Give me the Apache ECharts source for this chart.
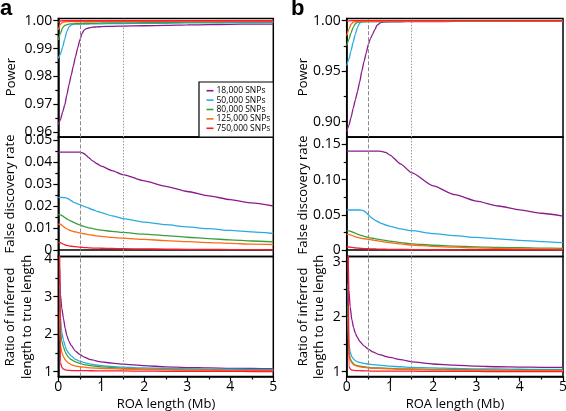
<!DOCTYPE html>
<html><head><meta charset="utf-8">
<script src="https://cdn.jsdelivr.net/npm/echarts@6/dist/echarts.min.js"></script>
<style>html,body{margin:0;padding:0;background:#fff}#c{width:566px;height:411px}</style>
</head><body><div id="c"></div>
<script>
// ---------------- data ----------------
const SERIES_NAMES = ['18,000 SNPs', '50,000 SNPs', '80,000 SNPs', '125,000 SNPs', '750,000 SNPs'];
const COLORS = ['#8B1A8B', '#29ABE2', '#3A9E3A', '#FF6A13', '#FF1A2E'];

// ROA length (Mb) sample points
const X_MAIN  = [0, 0.05, 0.1, 0.15, 0.2, 0.25, 0.3, 0.35, 0.4, 0.45, 0.5, 0.55, 0.6, 0.65, 0.7, 0.8, 0.9, 1.0, 1.25, 1.5, 2, 2.5, 3, 3.5, 4, 4.5, 5];
const X_RATIO = [0.03, 0.05, 0.08, 0.12, 0.16, 0.2, 0.25, 0.3, 0.4, 0.5, 0.6, 0.75, 1.0, 1.25, 1.5, 2, 2.5, 3, 3.5, 4, 4.5, 5];

// Panel a – Power
const A_POWER_18K  = [0.9628,0.9645,0.9672,0.9698,0.9735,0.9771,0.9805,0.9838,0.9871,0.9902,0.9930,0.9954,0.9966,0.9972,0.9974,0.9977,0.9978,0.9979,0.9980,0.9981,0.9982,0.9983,0.9985,0.9986,0.9987,0.9988,0.9988];
const A_POWER_50K  = [0.9865,0.9880,0.9905,0.9934,0.9962,0.9978,0.9985,0.9987,0.9988,0.9988,0.9988,0.9988,0.9988,0.9988,0.9988,0.9989,0.9989,0.9989,0.9990,0.9990,0.9991,0.9991,0.9992,0.9992,0.9993,0.9993,0.9994];
const A_POWER_80K  = [0.9931,0.9955,0.9975,0.9983,0.9986,0.9988,0.9989,0.9989,0.9990,0.9990,0.9990,0.9990,0.9991,0.9991,0.9991,0.9991,0.9991,0.9992,0.9992,0.9992,0.9993,0.9994,0.9995,0.9995,0.9996,0.9996,0.9996];
const A_POWER_125K = [0.9967,0.9988,0.9994,0.9996,0.9996,0.9997,0.9997,0.9997,0.9997,0.9997,0.9997,0.9997,0.9997,0.9997,0.9997,0.9997,0.9998,0.9998,0.9998,0.9998,0.9998,0.9998,0.9999,0.9999,0.9999,0.9999,0.9999];
const A_POWER_750K = [0.9994,0.9999,1.0000,1.0000,1.0000,1.0000,1.0000,1.0000,1.0000,1.0000,1.0000,1.0000,1.0000,1.0000,1.0000,1.0000,1.0000,1.0000,1.0000,1.0000,1.0000,1.0000,1.0000,1.0000,1.0000,1.0000,1.0000];

// Panel a – False discovery rate
const A_FDR_18K  = [0.0445,0.0445,0.0445,0.0445,0.0445,0.0445,0.0445,0.0445,0.0445,0.0445,0.0445,0.0443,0.0438,0.0430,0.0421,0.0405,0.0392,0.0381,0.0361,0.0343,0.0314,0.0289,0.0266,0.0246,0.0229,0.0214,0.0200];
const A_FDR_50K  = [0.0238,0.0239,0.0239,0.0238,0.0236,0.0231,0.0224,0.0218,0.0214,0.0210,0.0206,0.0202,0.0198,0.0195,0.0191,0.0183,0.0176,0.0170,0.0155,0.0143,0.0127,0.0115,0.0105,0.0097,0.0089,0.0082,0.0075];
const A_FDR_80K  = [0.0161,0.0160,0.0155,0.0148,0.0141,0.0136,0.0131,0.0127,0.0122,0.0118,0.0114,0.0110,0.0107,0.0104,0.0101,0.0097,0.0093,0.0090,0.0085,0.0080,0.0072,0.0065,0.0058,0.0052,0.0046,0.0041,0.0037];
const A_FDR_125K = [0.0118,0.0117,0.0110,0.0102,0.0096,0.0091,0.0087,0.0084,0.0082,0.0080,0.0078,0.0076,0.0074,0.0072,0.0070,0.0067,0.0064,0.0062,0.0057,0.0054,0.0048,0.0043,0.0038,0.0034,0.0030,0.0027,0.0025];
const A_FDR_750K = [0.0035,0.0033,0.0028,0.0024,0.0021,0.0019,0.0017,0.0016,0.0015,0.0014,0.0013,0.0012,0.0011,0.0011,0.0010,0.0009,0.0009,0.0008,0.0007,0.0006,0.0005,0.0004,0.0003,0.0003,0.0002,0.0002,0.0001];

// Panel a – Ratio of inferred length to true length
const A_RATIO_18K  = [3.75,3.05,2.70,2.42,2.15,1.96,1.80,1.70,1.55,1.46,1.39,1.32,1.26,1.23,1.20,1.16,1.13,1.11,1.10,1.09,1.085,1.08];
const A_RATIO_50K  = [3.30,2.45,2.05,1.84,1.68,1.56,1.48,1.42,1.33,1.28,1.24,1.20,1.16,1.14,1.12,1.10,1.09,1.08,1.07,1.07,1.06,1.06];
const A_RATIO_80K  = [3.00,2.10,1.82,1.66,1.53,1.44,1.37,1.32,1.26,1.22,1.19,1.16,1.13,1.11,1.09,1.07,1.06,1.05,1.05,1.04,1.04,1.04];
const A_RATIO_125K = [2.60,1.70,1.52,1.40,1.32,1.27,1.22,1.19,1.15,1.13,1.12,1.10,1.09,1.08,1.07,1.06,1.05,1.04,1.04,1.03,1.03,1.03];
const A_RATIO_750K = [4.50,1.25,1.12,1.07,1.05,1.04,1.035,1.03,1.03,1.03,1.03,1.025,1.02,1.02,1.02,1.015,1.01,1.01,1.01,1.01,1.005,1.005];

// Panel b – Power
const B_POWER_18K  = [0.8905,0.8965,0.9040,0.9133,0.9215,0.9300,0.9395,0.9500,0.9595,0.9680,0.9765,0.9825,0.9868,0.9912,0.9955,0.9985,0.9988,0.9989,0.9990,0.9991,0.9992,0.9993,0.9994,0.9995,0.9995,0.9996,0.9996];
const B_POWER_50K  = [0.9555,0.9620,0.9700,0.9790,0.9868,0.9935,0.9978,0.9989,0.9991,0.9991,0.9991,0.9991,0.9991,0.9991,0.9992,0.9992,0.9992,0.9992,0.9993,0.9993,0.9994,0.9994,0.9995,0.9995,0.9996,0.9996,0.9997];
const B_POWER_80K  = [0.9753,0.9815,0.9880,0.9935,0.9970,0.9984,0.9987,0.9990,0.9990,0.9990,0.9991,0.9991,0.9991,0.9991,0.9992,0.9992,0.9992,0.9993,0.9993,0.9994,0.9995,0.9995,0.9996,0.9996,0.9997,0.9997,0.9997];
const B_POWER_125K = [0.9851,0.9915,0.9965,0.9985,0.9990,0.9992,0.9993,0.9993,0.9994,0.9994,0.9994,0.9994,0.9995,0.9995,0.9995,0.9995,0.9996,0.9996,0.9996,0.9997,0.9997,0.9998,0.9998,0.9998,0.9998,0.9999,0.9999];
const B_POWER_750K = [0.9993,0.9998,1.0000,1.0000,1.0000,1.0000,1.0000,1.0000,1.0000,1.0000,1.0000,1.0000,1.0000,1.0000,1.0000,1.0000,1.0000,1.0000,1.0000,1.0000,1.0000,1.0000,1.0000,1.0000,1.0000,1.0000,1.0000];

// Panel b – False discovery rate
const B_FDR_18K  = [0.1404,0.1404,0.1404,0.1404,0.1404,0.1404,0.1404,0.1404,0.1404,0.1404,0.1404,0.1404,0.1404,0.1404,0.1404,0.1400,0.1385,0.1348,0.1220,0.1097,0.0910,0.0785,0.0695,0.0625,0.0570,0.0522,0.0482];
const B_FDR_50K  = [0.0567,0.0568,0.0568,0.0568,0.0568,0.0568,0.0568,0.0565,0.0555,0.0530,0.0500,0.0470,0.0445,0.0425,0.0408,0.0378,0.0355,0.0335,0.0300,0.0274,0.0232,0.0203,0.0178,0.0158,0.0138,0.0120,0.0104];
const B_FDR_80K  = [0.0275,0.0273,0.0265,0.0252,0.0238,0.0225,0.0214,0.0204,0.0195,0.0187,0.0180,0.0173,0.0167,0.0161,0.0155,0.0145,0.0135,0.0126,0.0104,0.0088,0.0068,0.0055,0.0045,0.0037,0.0032,0.0027,0.0024];
const B_FDR_125K = [0.0223,0.0221,0.0212,0.0200,0.0189,0.0180,0.0172,0.0166,0.0160,0.0156,0.0152,0.0147,0.0142,0.0137,0.0132,0.0122,0.0112,0.0104,0.0086,0.0071,0.0052,0.0040,0.0030,0.0023,0.0017,0.0013,0.0010];
const B_FDR_750K = [0.0045,0.0043,0.0038,0.0034,0.0030,0.0027,0.0025,0.0023,0.0021,0.0019,0.0018,0.0017,0.0016,0.0015,0.0014,0.0012,0.0011,0.0010,0.0008,0.0006,0.0004,0.0003,0.0002,0.0002,0.0001,0.0001,0.0000];

// Panel b – Ratio of inferred length to true length
const B_RATIO_18K  = [3.30,2.49,2.18,1.94,1.80,1.70,1.62,1.55,1.47,1.41,1.36,1.31,1.26,1.22,1.18,1.14,1.12,1.10,1.09,1.085,1.08,1.08];
const B_RATIO_50K  = [2.60,1.52,1.36,1.27,1.23,1.20,1.18,1.17,1.15,1.14,1.13,1.12,1.10,1.09,1.08,1.07,1.06,1.05,1.05,1.045,1.04,1.04];
const B_RATIO_80K  = [2.20,1.37,1.24,1.18,1.14,1.12,1.11,1.10,1.09,1.08,1.07,1.07,1.06,1.05,1.05,1.04,1.04,1.035,1.03,1.03,1.03,1.03];
const B_RATIO_125K = [2.00,1.34,1.22,1.16,1.13,1.11,1.10,1.09,1.08,1.07,1.06,1.06,1.05,1.045,1.04,1.035,1.03,1.03,1.025,1.02,1.02,1.02];
const B_RATIO_750K = [4.00,1.10,1.05,1.03,1.025,1.02,1.02,1.02,1.015,1.015,1.01,1.01,1.01,1.01,1.01,1.005,1.005,1.005,1.0,1.0,1.0,1.0];

// tick labels
const X_TICKS = [0, 1, 2, 3, 4, 5];
const A_POWER_TICKS = [0.96, 0.97, 0.98, 0.99, 1.00];
const A_POWER_MINOR = [0.965, 0.975, 0.985, 0.995];
const A_FDR_TICKS = [0, 0.01, 0.02, 0.03, 0.04, 0.05];
const A_FDR_MINOR = [0.005, 0.015, 0.025, 0.035, 0.045];
const A_RATIO_TICKS = [1, 2, 3, 4];
const A_RATIO_MINOR = [1.5, 2.5, 3.5];
const B_POWER_TICKS = [0.90, 0.95, 1.00];
const B_POWER_MINOR = [0.925, 0.975];
const B_FDR_TICKS = [0, 0.05, 0.10, 0.15];
const B_FDR_MINOR = [0.025, 0.075, 0.125];
const B_RATIO_TICKS = [1, 2, 3];
const B_RATIO_MINOR = [1.5, 2.5];

const MARK_DASHED_X = 0.5;
const MARK_DOTTED_X = 1.5;

// ---------------- layout ----------------
const FONT = '"Open Sans", "DejaVu Sans", sans-serif';
const PANELS = [
  { left: 58.3, width: 215 },
  { left: 346.7, width: 216.3 }
];
const ROWS = [
  { top: 18.5, height: 118.7 },
  { top: 137.2, height: 119.3 },
  { top: 256.5, height: 120 }
];
const fmt2 = v => (v === 0 ? '0' : v.toFixed(2));
const fmtInt = v => String(Math.round(v));

const SUBPLOTS = [
  // panel a
  { p: 0, r: 0, x: X_MAIN,  ys: [A_POWER_18K, A_POWER_50K, A_POWER_80K, A_POWER_125K, A_POWER_750K], min: 0.95824, max: 1.0008, ticks: A_POWER_TICKS, minor: A_POWER_MINOR, fmt: fmt2 },
  { p: 0, r: 1, x: X_MAIN,  ys: [A_FDR_18K, A_FDR_50K, A_FDR_80K, A_FDR_125K, A_FDR_750K], min: -0.00295, max: 0.05127, ticks: A_FDR_TICKS, minor: A_FDR_MINOR, fmt: fmt2 },
  { p: 0, r: 2, x: X_RATIO, ys: [A_RATIO_18K, A_RATIO_50K, A_RATIO_80K, A_RATIO_125K, A_RATIO_750K], min: 0.872, max: 4.067, ticks: A_RATIO_TICKS, minor: A_RATIO_MINOR, fmt: fmtInt },
  // panel b
  { p: 1, r: 0, x: X_MAIN,  ys: [B_POWER_18K, B_POWER_50K, B_POWER_80K, B_POWER_125K, B_POWER_750K], min: 0.8847, max: 1.0022, ticks: B_POWER_TICKS, minor: B_POWER_MINOR, fmt: fmt2 },
  { p: 1, r: 1, x: X_MAIN,  ys: [B_FDR_18K, B_FDR_50K, B_FDR_80K, B_FDR_125K, B_FDR_750K], min: -0.0092, max: 0.1601, ticks: B_FDR_TICKS, minor: B_FDR_MINOR, fmt: fmt2 },
  { p: 1, r: 2, x: X_RATIO, ys: [B_RATIO_18K, B_RATIO_50K, B_RATIO_80K, B_RATIO_125K, B_RATIO_750K], min: 0.913, max: 3.095, ticks: B_RATIO_TICKS, minor: B_RATIO_MINOR, fmt: fmtInt }
];

const grids = [], xAxes = [], yAxes = [], series = [];
SUBPLOTS.forEach((sp, g) => {
  const P = PANELS[sp.p], R = ROWS[sp.r];
  const bottomRow = sp.r === 2;
  grids.push({ left: P.left, width: P.width, top: R.top, height: R.height, show: true,
    borderColor: '#000', borderWidth: 1.5, backgroundColor: 'transparent', containLabel: false, outerBoundsMode: 'none' });
  xAxes.push({ type: 'value', gridIndex: g, min: 0, max: 5, interval: 1,
    axisLine: { show: true, lineStyle: { color: '#000', width: 1.5 } },
    axisTick: { show: bottomRow, length: 5, lineStyle: { color: '#000', width: 1.2 } },
    minorTick: { show: bottomRow, splitNumber: 2, length: 3, lineStyle: { color: '#000', width: 1.2 } },
    axisLabel: { show: bottomRow, customValues: X_TICKS, fontFamily: FONT, fontSize: 14, color: '#000', margin: 4 },
    splitLine: { show: false }, minorSplitLine: { show: false } });
  yAxes.push({ type: 'value', gridIndex: g, min: sp.min, max: sp.max, position: 'left',
    axisLine: { show: true, lineStyle: { color: '#000', width: 1.5 } },
    axisTick: { show: true, customValues: sp.ticks, length: 5, lineStyle: { color: '#000', width: 1.2 } },
    axisLabel: { show: true, customValues: sp.ticks, formatter: sp.fmt, fontFamily: FONT, fontSize: 14, color: '#000', margin: 6 },
    splitLine: { show: false } });
  yAxes.push({ type: 'value', gridIndex: g, min: sp.min, max: sp.max, position: 'left',
    axisLine: { show: false },
    axisTick: { show: true, customValues: sp.minor, length: 3, lineStyle: { color: '#000', width: 1.2 } },
    axisLabel: { show: false },
    splitLine: { show: false } });
  sp.ys.forEach((arr, k) => {
    const s = {
      name: SERIES_NAMES[k], type: 'line', xAxisIndex: g, yAxisIndex: 2 * g,
      data: sp.x.map((x, i) => [x, arr[i]]),
      showSymbol: false, symbol: 'none', smooth: 0.2, smoothMonotone: 'x', clip: true,
      lineStyle: { color: COLORS[k], width: 1.3 }, itemStyle: { color: COLORS[k] },
      z: 2 + k, silent: true
    };
    if (k === 0) {
      s.markLine = { silent: true, symbol: 'none', label: { show: false }, animation: false,
        data: [
          { xAxis: MARK_DASHED_X, lineStyle: { color: '#8a8a8a', width: 1, type: [4, 2] } },
          { xAxis: MARK_DOTTED_X, lineStyle: { color: '#9a9a9a', width: 1, type: [1.5, 1.5] } }
        ] };
    }
    series.push(s);
  });
});

const titleText = (x, y, text) => ({ type: 'text', x, y, rotation: Math.PI / 2, z: 20,
  style: { text, font: '13px ' + FONT, fill: '#000', align: 'center', verticalAlign: 'middle' } });

const graphic = [
  { type: 'text', x: 0, y: 9.3, z: 20, style: { text: 'a', font: 'bold 22px "Liberation Sans", Arial, sans-serif', fill: '#000', align: 'left', verticalAlign: 'middle' } },
  { type: 'text', x: 291, y: 9.0, z: 20, style: { text: 'b', font: 'bold 22px "Liberation Sans", Arial, sans-serif', fill: '#000', align: 'left', verticalAlign: 'middle' } },
  titleText(11, 77, 'Power'),
  titleText(10, 194, 'False discovery rate'),
  titleText(10, 317, 'Ratio of inferred'),
  titleText(27, 317, 'length to true length'),
  titleText(303, 77, 'Power'),
  titleText(303, 195, 'False discovery rate'),
  titleText(303, 317, 'Ratio of inferred'),
  titleText(319, 317, 'length to true length'),
  { type: 'text', x: 166, y: 404, z: 20, style: { text: 'ROA length (Mb)', font: '13px ' + FONT, fill: '#000', align: 'center', verticalAlign: 'middle' } },
  { type: 'text', x: 455, y: 404, z: 20, style: { text: 'ROA length (Mb)', font: '13px ' + FONT, fill: '#000', align: 'center', verticalAlign: 'middle' } },
  { type: 'rect', z: 8, shape: { x: 199, y: 82, width: 74.3, height: 55.2 }, style: { fill: '#fff', stroke: '#000', lineWidth: 1.2 } }
];

const chart = echarts.init(document.getElementById('c'), null, { renderer: 'canvas' });
chart.setOption({
  animation: false,
  backgroundColor: '#fff',
  grid: grids, xAxis: xAxes, yAxis: yAxes, series,
  legend: { data: SERIES_NAMES, orient: 'vertical', left: 206.5, top: 86, z: 30,
    icon: 'rect', itemWidth: 7, itemHeight: 1.6, itemGap: 0, padding: 0, selectedMode: false,
    textStyle: { fontFamily: FONT, fontSize: 8.5, color: '#000', lineHeight: 9.4, padding: [0, 0, 0, -2] } },
  graphic
});
</script>
</body></html>
